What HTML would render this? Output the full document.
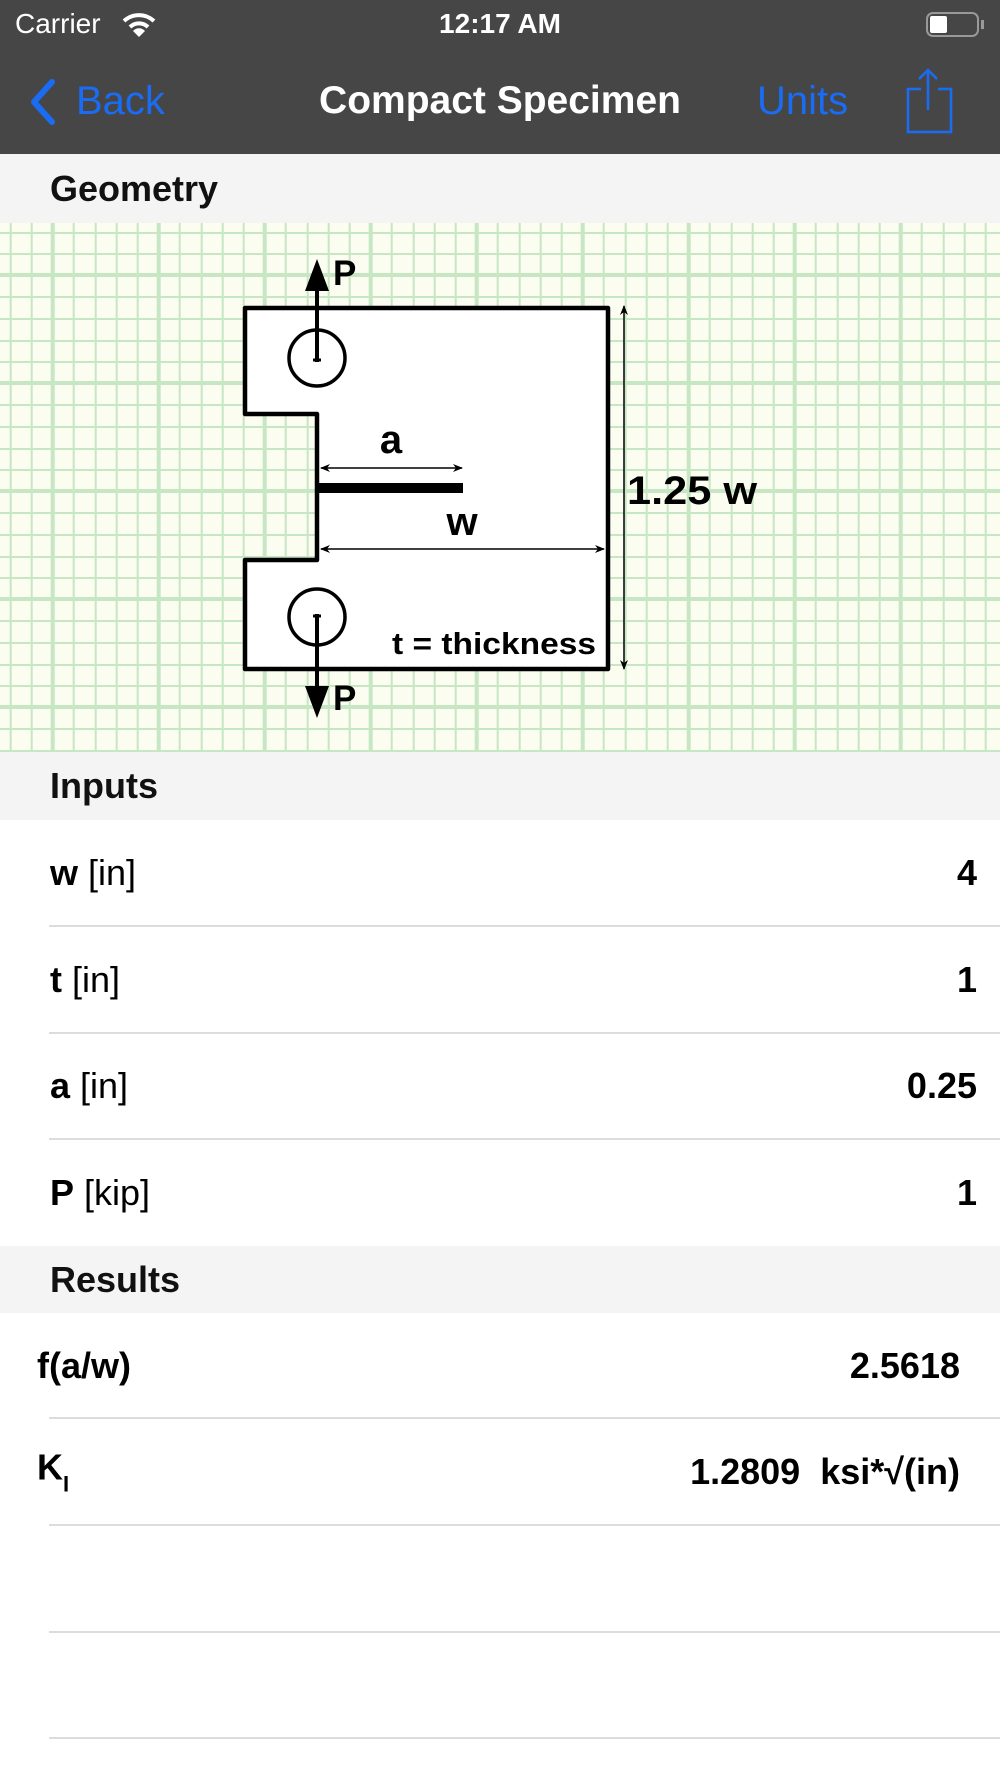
<!DOCTYPE html>
<html><head><meta charset="utf-8"><style>
*{margin:0;padding:0;box-sizing:border-box}
body{width:1000px;height:1778px;background:#fff;font-family:"Liberation Sans",sans-serif;position:relative;overflow:hidden;color:#000}
.abs{position:absolute}
.hdr{position:absolute;left:0;width:1000px;background:#f4f4f4}
.hdr span{position:absolute;left:50px;font-size:36px;font-weight:bold;color:#111;top:50%;transform:translateY(-50%)}
.row{position:absolute;left:0;width:1000px}
.row .l{position:absolute;left:50px;top:50%;transform:translateY(-50%);font-size:36px}
.row .v{position:absolute;right:23px;top:50%;transform:translateY(-50%);font-size:36px;font-weight:bold}
.sep{position:absolute;left:49px;right:0;height:2px;background:#dcdcdc}
</style></head><body>
<div class="abs" style="left:0;top:0;width:1000px;height:154px;background:#464646"></div>
<div class="abs" style="left:15px;top:8px;font-size:28px;color:#fff">Carrier</div>
<svg class="abs" style="left:122px;top:12px" width="34" height="26" viewBox="0 0 34 26"><path d="M2 9 A22 22 0 0 1 32 9" stroke="#fff" stroke-width="4" fill="none"/><path d="M8 15 A13 13 0 0 1 26 15" stroke="#fff" stroke-width="4" fill="none"/><path d="M17 25 L11 19 A8 8 0 0 1 23 19 Z" fill="#fff"/></svg>
<div class="abs" style="left:0;width:1000px;top:8px;text-align:center;font-size:28px;color:#fff;font-weight:bold">12:17 AM</div>
<div class="abs" style="left:926px;top:12px;width:53px;height:25px;border:2px solid #999;border-radius:7px"></div>
<div class="abs" style="left:930px;top:16px;width:17px;height:17px;background:#fff;border-radius:2px"></div>
<div class="abs" style="left:981px;top:20px;width:3px;height:9px;background:#999"></div>
<svg class="abs" style="left:28px;top:78px" width="30" height="48"><path d="M24 4 L6 24 L24 44" stroke="#1a6cf5" stroke-width="6" fill="none" stroke-linecap="round" stroke-linejoin="round"/></svg>
<div class="abs" style="left:76px;top:79px;font-size:40px;color:#1a6cf5">Back</div>
<div class="abs" style="left:0;width:1000px;top:79px;text-align:center;font-size:39px;color:#fff;font-weight:bold">Compact Specimen</div>
<div class="abs" style="left:757px;top:79px;font-size:40px;color:#1a6cf5">Units</div>
<svg class="abs" style="left:900px;top:66px" width="60" height="72"><path d="M21 23 H8 V66 H51 V23 H38" stroke="#1a6cf5" stroke-width="2.5" fill="none"/><path d="M28 4 V44 M19 13 L28 4 L37 13" stroke="#1a6cf5" stroke-width="2.5" fill="none"/></svg>

<div class="hdr" style="top:154px;height:69px"><span>Geometry</span></div>
<svg class="abs" style="left:0;top:223px" width="1000" height="529">
<defs>
<pattern id="g" x="-0.3" y="9" width="106" height="108" patternUnits="userSpaceOnUse">
<rect width="106" height="108" fill="#fafdef"/>
<g stroke="#c6e6c4" stroke-width="2">
<line x1="11" y1="0" x2="11" y2="108"/><line x1="32" y1="0" x2="32" y2="108"/><line x1="74" y1="0" x2="74" y2="108"/><line x1="96" y1="0" x2="96" y2="108"/>
<line x1="0" y1="1" x2="106" y2="1"/><line x1="0" y1="22" x2="106" y2="22"/><line x1="0" y1="65" x2="106" y2="65"/><line x1="0" y1="87" x2="106" y2="87"/>
</g>
<g stroke="#c6e6c4" stroke-width="4"><line x1="53" y1="0" x2="53" y2="108"/><line x1="0" y1="43" x2="106" y2="43"/></g>
</pattern>
<marker id="ah" markerWidth="10" markerHeight="8" refX="9" refY="4" orient="auto-start-reverse" markerUnits="userSpaceOnUse"><path d="M0 0 L10 4 L0 8 L3 4Z" fill="#000"/></marker>
</defs>
<rect width="1000" height="529" fill="url(#g)"/>
<g transform="translate(0,-223)">
<path d="M245 308 H608 V669 H245 V560 H317 V414 H245 Z" fill="#fff" stroke="#000" stroke-width="4.5" stroke-linejoin="round"/>
<circle cx="317" cy="358" r="28" fill="none" stroke="#000" stroke-width="3.5"/>
<circle cx="317" cy="617" r="28" fill="none" stroke="#000" stroke-width="3.5"/>
<line x1="317" y1="362" x2="317" y2="285" stroke="#000" stroke-width="4"/>
<path d="M305 291 L317 259 L329 291 Z" fill="#000"/>
<line x1="313" y1="360" x2="321" y2="360" stroke="#000" stroke-width="3"/>
<line x1="317" y1="614" x2="317" y2="692" stroke="#000" stroke-width="4"/>
<path d="M305 686 L317 718 L329 686 Z" fill="#000"/>
<line x1="313" y1="616" x2="321" y2="616" stroke="#000" stroke-width="3"/>
<text x="333" y="285" font-family="Liberation Sans" font-weight="bold" font-size="35">P</text>
<text x="333" y="710" font-family="Liberation Sans" font-weight="bold" font-size="35">P</text>
<rect x="319" y="483" width="144" height="10" fill="#000"/>
<line x1="321" y1="468" x2="462" y2="468" stroke="#000" stroke-width="1.5" marker-start="url(#ah)" marker-end="url(#ah)"/>
<line x1="321" y1="549" x2="604" y2="549" stroke="#000" stroke-width="1.5" marker-start="url(#ah)" marker-end="url(#ah)"/>
<line x1="624" y1="306" x2="624" y2="669" stroke="#000" stroke-width="1.5" marker-start="url(#ah)" marker-end="url(#ah)"/>
<text x="391" y="453" text-anchor="middle" font-family="Liberation Sans" font-weight="bold" font-size="40">a</text>
<text x="462" y="535" text-anchor="middle" font-family="Liberation Sans" font-weight="bold" font-size="40">w</text>
<text x="627" y="504" font-family="Liberation Sans" font-weight="bold" font-size="40" textLength="130" lengthAdjust="spacingAndGlyphs">1.25 w</text>
<text x="392" y="654" font-family="Liberation Sans" font-weight="bold" font-size="31" textLength="204" lengthAdjust="spacingAndGlyphs">t = thickness</text>
</g>
</svg>

<div class="hdr" style="top:752px;height:68px"><span>Inputs</span></div>
<div class="row" style="top:820px;height:106px"><span class="l"><b>w</b> [in]</span><span class="v">4</span></div>
<div class="sep" style="top:925px"></div>
<div class="row" style="top:926px;height:107px"><span class="l"><b>t</b> [in]</span><span class="v">1</span></div>
<div class="sep" style="top:1032px"></div>
<div class="row" style="top:1033px;height:106px"><span class="l"><b>a</b> [in]</span><span class="v">0.25</span></div>
<div class="sep" style="top:1138px"></div>
<div class="row" style="top:1139px;height:107px"><span class="l"><b>P</b> [kip]</span><span class="v">1</span></div>

<div class="hdr" style="top:1246px;height:67px"><span>Results</span></div>
<div class="row" style="top:1313px;height:105px"><span class="l" style="left:37px;font-weight:bold">f(a/w)</span><span class="v" style="right:40px">2.5618</span></div>
<div class="sep" style="top:1417px"></div>
<div class="row" style="top:1418px;height:107px"><span class="l" style="left:37px;font-weight:bold">K<sub style="font-size:22px;vertical-align:-12px">I</sub></span><span class="v" style="right:40px">1.2809&nbsp; ksi*√(in)</span></div>
<div class="sep" style="top:1524px"></div>
<div class="sep" style="top:1631px"></div>
<div class="sep" style="top:1737px"></div>
</body></html>
